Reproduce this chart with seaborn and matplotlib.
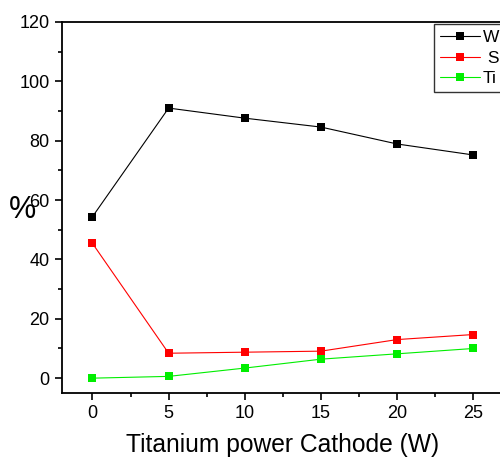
import matplotlib
matplotlib.use("Agg")
import matplotlib.pyplot as plt
from matplotlib.ticker import MultipleLocator
from matplotlib.lines import Line2D
import seaborn as sns
import pandas as pd

power = [0, 5, 10, 15, 20, 25]
w_vals = [54.4, 91.0, 87.6, 84.6, 78.9, 75.2]
s_vals = [45.4, 8.4, 8.75, 9.1, 13.0, 14.7]
ti_vals = [0.0, 0.6, 3.4, 6.4, 8.2, 10.0]
series_names = ["W", " S", "Ti"]
colors = ["#000000", "#ff0000", "#00ee00"]

df = pd.DataFrame({
    "power": power * 3,
    "value": w_vals + s_vals + ti_vals,
    "series": [series_names[0]] * 6 + [series_names[1]] * 6 + [series_names[2]] * 6,
})

sns.set_style("ticks")
plt.rcParams["font.family"] = ["Liberation Sans", "DejaVu Sans"]
plt.rcParams["text.color"] = "black"
plt.rcParams["axes.labelcolor"] = "black"

fig = plt.figure(figsize=(5.0, 4.59), dpi=100)
W, H = 500, 459
left, right, top, bottom = 62, 519, 22, 393
ax = fig.add_axes([left / W, 1 - bottom / H, (right - left) / W, (bottom - top) / H])

sns.lineplot(data=df, x="power", y="value", hue="series", style="series",
             palette=dict(zip(series_names, colors)), markers=["s"] * 3,
             dashes=False, markersize=6, markeredgewidth=0, linewidth=0.8,
             ax=ax, legend=False)

ax.set_xlim(-2, 28)
ax.set_ylim(-5, 120)
ax.xaxis.set_major_locator(MultipleLocator(5))
ax.xaxis.set_minor_locator(MultipleLocator(2.5))
ax.yaxis.set_major_locator(MultipleLocator(20))
ax.yaxis.set_minor_locator(MultipleLocator(10))
ax.tick_params(axis="both", which="major", direction="out", length=5, width=1.2,
               labelsize=13, colors="black", pad=4)
ax.tick_params(axis="both", which="minor", direction="out", length=3, width=1.2,
               colors="black")
ax.tick_params(top=False, right=False)
for sp in ["left", "bottom", "top", "right"]:
    ax.spines[sp].set_visible(True)
    ax.spines[sp].set_linewidth(1.3)
    ax.spines[sp].set_color("black")

ax.set_xlabel("Titanium power Cathode (W)", fontsize=17.7, color="black")
ax.xaxis.set_label_coords((283 - left) / (right - left), -(445 - bottom) / (bottom - top))
ax.xaxis.label.set_va("center")
ax.set_ylabel("")
fig.text(22 / W, 1 - 210 / H, "%", fontsize=22, ha="center", va="center", color="black")

handles = [Line2D([0], [0], color=c, marker="s", markersize=6, markeredgewidth=0,
                  linewidth=0.8) for c in colors]
leg = fig.legend(handles, series_names, loc="upper left",
                 bbox_to_anchor=(434 / W, 1 - 24 / H), frameon=True,
                 fancybox=False, fontsize=12.5, handlelength=2.3,
                 borderpad=0.35, labelspacing=0.3, handletextpad=0.15,
                 borderaxespad=0)
leg.get_frame().set_edgecolor("black")
leg.get_frame().set_linewidth(1.0)
for t in leg.get_texts():
    t.set_color("black")

fig.savefig("out.png", dpi=100)
